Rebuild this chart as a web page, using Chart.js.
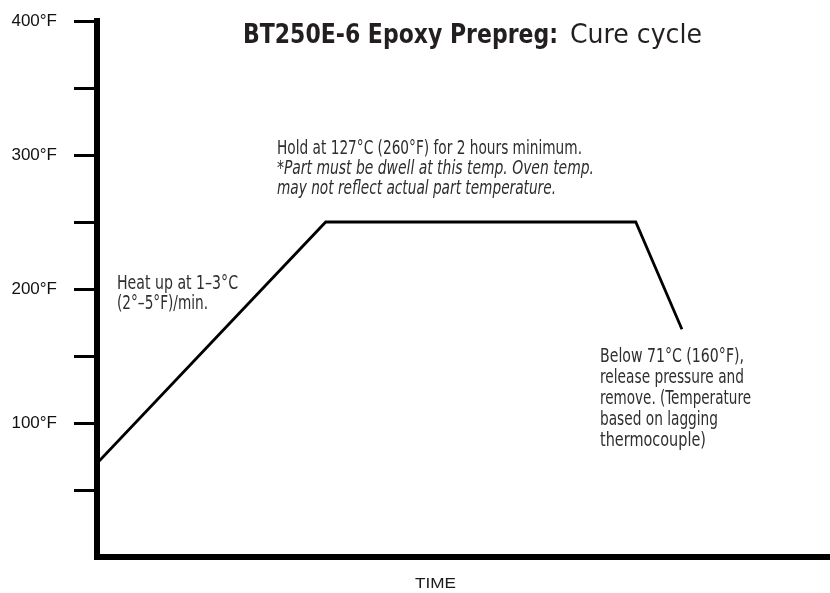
<!DOCTYPE html>
<html>
<head>
<meta charset="utf-8">
<script src="https://cdn.jsdelivr.net/npm/chart.js@4"></script>
<style>
html,body{margin:0;padding:0;background:#fff;}
#wrap{width:830px;height:593px;position:relative;}
</style>
</head>
<body>
<div id="wrap"><canvas id="c"></canvas></div>
<script>
// ---- data ----
const timePoints = [0, 31.2, 73.5, 79.8];      // arbitrary time units
const tempF = [70, 250, 250, 170];             // °F
const yTickLabels = {100: '100°F', 200: '200°F', 300: '300°F', 400: '400°F'};
const titleBold = 'BT250E-6 Epoxy Prepreg:';
const titleRegular = 'Cure cycle';
const holdNote = ['Hold at 127°C (260°F) for 2 hours minimum.',
                  '*Part must be dwell at this temp. Oven temp.',
                  'may not reflect actual part temperature.'];
const heatNote = ['Heat up at 1–3°C', '(2°–5°F)/min.'];
const coolNote = ['Below 71°C (160°F),', 'release pressure and', 'remove. (Temperature',
                  'based on lagging', 'thermocouple)'];
const xAxisTitle = 'TIME';

// ---- text helpers ----
const NARROW = '"Liberation Sans Narrow", "DejaVu Sans Condensed", "Liberation Sans", sans-serif';
function drawFitted(ctx, text, x, y, font, targetW, color) {
  ctx.save();
  ctx.font = font;
  ctx.textAlign = 'left';
  ctx.textBaseline = 'alphabetic';
  const w = ctx.measureText(text).width;
  ctx.translate(x, y);
  ctx.scale(targetW / w, 1);
  ctx.fillStyle = color;
  ctx.fillText(text, 0, 0);
  ctx.restore();
}

const textPlugin = {
  id: 'annotations',
  afterDraw(chart) {
    const ctx = chart.ctx;
    // title
    drawFitted(ctx, titleBold, 243, 43, 'bold 26.5px ' + NARROW, 315, '#231f20');
    drawFitted(ctx, titleRegular, 570, 43, '26.5px ' + NARROW, 132, '#231f20');
    // hold note
    const noteColor = '#2e2e2e';
    drawFitted(ctx, holdNote[0], 277, 154, '19px ' + NARROW, 305, noteColor);
    drawFitted(ctx, holdNote[1], 277, 174, 'italic 19px ' + NARROW, 317, noteColor);
    drawFitted(ctx, holdNote[2], 277, 194, 'italic 19px ' + NARROW, 279, noteColor);
    // heat note
    drawFitted(ctx, heatNote[0], 117, 289, '19px ' + NARROW, 121, noteColor);
    drawFitted(ctx, heatNote[1], 117, 309, '19px ' + NARROW, 91, noteColor);
    // cool note
    const coolW = [144, 144, 151, 118, 106];
    coolNote.forEach((t, i) => drawFitted(ctx, t, 600, 362 + i * 21, '19px ' + NARROW, coolW[i], noteColor));
    // x axis title
    drawFitted(ctx, xAxisTitle, 415, 588, '14.5px "Liberation Sans", Arial, sans-serif', 41, '#1a1a1a');
  }
};

new Chart(document.getElementById('c'), {
  type: 'line',
  data: {
    datasets: [{
      data: timePoints.map((t, i) => ({x: t, y: tempF[i]})),
      borderColor: '#000',
      borderWidth: 2.8,
      pointRadius: 0,
      tension: 0,
      fill: false,
      borderJoinStyle: 'miter'
    }]
  },
  options: {
    responsive: true,
    maintainAspectRatio: false,
    animation: false,
    layout: {padding: {top: 21, left: 0, right: 0, bottom: 36}},
    plugins: {legend: {display: false}, tooltip: {enabled: false}, title: {display: false}},
    scales: {
      x: {
        type: 'linear', min: 0, max: 100,
        ticks: {display: false},
        grid: {display: false, drawTicks: false},
        border: {display: true, color: '#000', width: 6}
      },
      y: {
        min: 0, max: 400,
        ticks: {
          stepSize: 50, padding: 17, color: '#111',
          font: {family: '"Liberation Sans", Arial, sans-serif', size: 17},
          callback: v => yTickLabels[v] || ''
        },
        grid: {
          drawOnChartArea: false, drawTicks: true, tickLength: 23, tickWidth: 3,
          tickColor: c => (c.tick && c.tick.value === 0) ? 'rgba(0,0,0,0)' : '#000'
        },
        border: {display: true, color: '#000', width: 6},
        afterFit: s => { s.width = 97; s.paddingTop = 0; s.paddingBottom = 0; }
      }
    }
  },
  plugins: [textPlugin]
});
</script>
</body>
</html>
